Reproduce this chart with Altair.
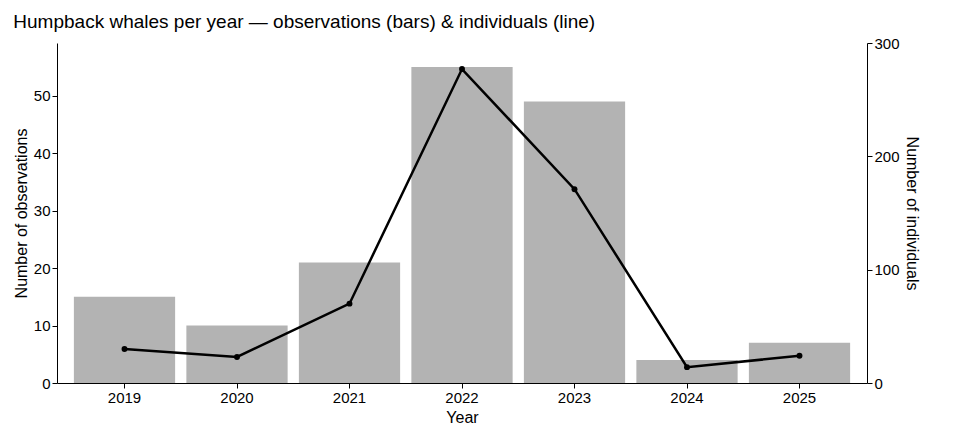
import altair as alt
import pandas as pd

years = ["2019", "2020", "2021", "2022", "2023", "2024", "2025"]
observations = [15, 10, 21, 55, 49, 4, 7]
individuals = [30, 23, 70, 277, 171, 14, 24]

FONT = "Liberation Sans"
df = pd.DataFrame({"Year": years, "Observations": observations, "Individuals": individuals})

x = alt.X(
    "Year:N",
    title="Year",
    scale=alt.Scale(paddingInner=0.1, paddingOuter=0.15),
    axis=alt.Axis(labelAngle=0, domainColor="black", tickColor="black", labelColor="black",
                  labelFontSize=15, titleFontSize=16, titleFontWeight="normal"),
)

bars = alt.Chart(df).mark_bar(color="#b3b3b3").encode(
    x=x,
    y=alt.Y("Observations:Q", title="Number of observations",
            scale=alt.Scale(domain=[0, 59.2], nice=False),
            axis=alt.Axis(values=[0, 10, 20, 30, 40, 50], grid=False, domainColor="black",
                          tickColor="black", labelColor="black", labelFontSize=15,
                          titleFontSize=16, titleFontWeight="normal")),
)

base_line = alt.Chart(df).encode(
    x=x,
    y=alt.Y("Individuals:Q", title="Number of individuals",
            scale=alt.Scale(domain=[0, 300], nice=False),
            axis=alt.Axis(orient="right", values=[0, 100, 200, 300], grid=False,
                          domainColor="black", tickColor="black", labelColor="black",
                          labelFontSize=15, titleFontSize=16, titleFontWeight="normal",
                          titleAngle=90)),
)
line = base_line.mark_line(color="black", strokeWidth=2.5) + base_line.mark_circle(color="black", size=35, opacity=1)

chart = (
    alt.layer(bars, line)
    .resolve_scale(y="independent")
    .properties(
        width=810, height=340,
        title=alt.TitleParams("Humpback whales per year — observations (bars) & individuals (line)",
                              anchor="start", fontSize=19, fontWeight="normal", color="black"),
    )
    .configure(font=FONT)
    .configure_view(stroke=None)
)

chart.save("out.html", embed_options={"renderer": "svg", "actions": False})
